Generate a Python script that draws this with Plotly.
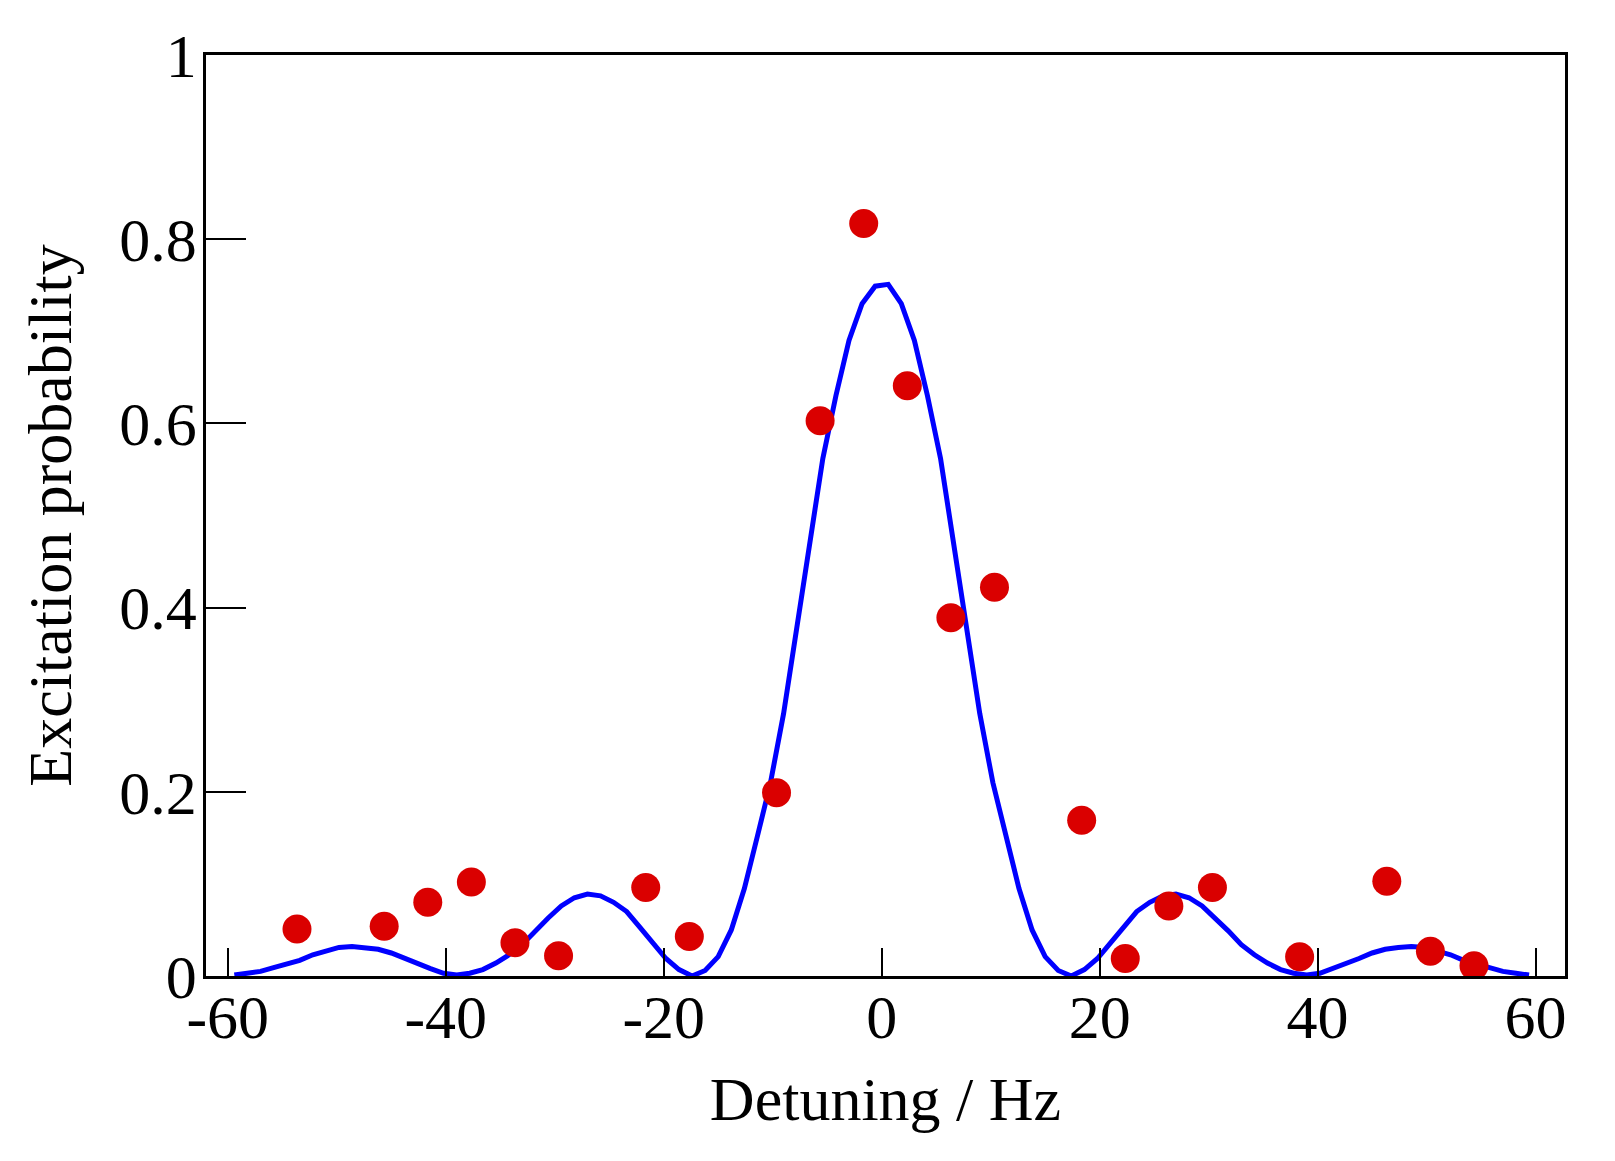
import plotly.graph_objects as go

# Measured data points (detuning in Hz, excitation probability)
data_x = [-53.65, -45.65, -41.65, -37.65, -33.65, -29.65, -21.65, -17.65,
          -9.65, -5.65, -1.65, 2.35, 6.35, 10.35, 18.35, 22.35, 26.35,
          30.35, 38.35, 46.35, 50.35, 54.35]
data_y = [0.051, 0.054, 0.080, 0.102, 0.036, 0.022, 0.096, 0.043,
          0.199, 0.603, 0.817, 0.641, 0.389, 0.422, 0.169, 0.019, 0.076,
          0.096, 0.021, 0.103, 0.027, 0.011]

# Theory curve
curve_x = [-59.4, -58.2, -57.0, -55.8, -54.6, -53.4, -52.2, -51.0, -49.8, -48.6,
           -47.4, -46.2, -45.0, -43.8, -42.6, -41.4, -40.2, -39.0, -37.8, -36.6,
           -35.4, -34.2, -33.0, -31.8, -30.6, -29.4, -28.2, -27.0, -25.8, -24.6,
           -23.4, -22.2, -21.0, -19.8, -18.6, -17.4, -16.2, -15.0, -13.8, -12.6,
           -11.4, -10.2, -9.0, -7.8, -6.6, -5.4, -4.2, -3.0, -1.8, -0.6,
           0.6, 1.8, 3.0, 4.2, 5.4, 6.6, 7.8, 9.0, 10.2, 11.4,
           12.6, 13.8, 15.0, 16.2, 17.4, 18.6, 19.8, 21.0, 22.2, 23.4,
           24.6, 25.8, 27.0, 28.2, 29.4, 30.6, 31.8, 33.0, 34.2, 35.4,
           36.6, 37.8, 39.0, 40.2, 41.4, 42.6, 43.8, 45.0, 46.2, 47.4,
           48.6, 49.8, 51.0, 52.2, 53.4, 54.6, 55.8, 57.0, 58.2, 59.4]
curve_y = [0.001, 0.003, 0.005, 0.009, 0.013, 0.017, 0.023, 0.027, 0.031, 0.032,
           0.031, 0.029, 0.025, 0.019, 0.014, 0.008, 0.003, 0.001, 0.003, 0.007,
           0.014, 0.023, 0.034, 0.049, 0.063, 0.076, 0.085, 0.089, 0.087, 0.080,
           0.070, 0.053, 0.036, 0.019, 0.007, 0.000, 0.006, 0.021, 0.050, 0.095,
           0.152, 0.210, 0.285, 0.375, 0.472, 0.562, 0.630, 0.690, 0.730, 0.749,
           0.751, 0.730, 0.690, 0.630, 0.562, 0.472, 0.375, 0.285, 0.210, 0.152,
           0.095, 0.050, 0.021, 0.006, 0.000, 0.007, 0.019, 0.036, 0.053, 0.070,
           0.080, 0.087, 0.089, 0.085, 0.076, 0.063, 0.049, 0.034, 0.023, 0.014,
           0.007, 0.003, 0.001, 0.003, 0.008, 0.014, 0.019, 0.025, 0.029, 0.031,
           0.032, 0.031, 0.027, 0.023, 0.017, 0.013, 0.009, 0.005, 0.003, 0.001]

x_tickvals = [-60, -40, -20, 0, 20, 40, 60]
x_ticktext = ["-60", "-40", "-20", "0", "20", "40", "60"]
y_tickvals = [0, 0.2, 0.4, 0.6, 0.8, 1]
y_ticktext = ["0", "0.2", "0.4", "0.6", "0.8", "1"]

FONT = "Liberation Serif, Times New Roman, serif"

fig = go.Figure()
fig.add_trace(go.Scatter(x=curve_x, y=curve_y, mode="lines",
                         line=dict(color="#0000FF", width=5),
                         showlegend=False, hoverinfo="skip"))
fig.add_trace(go.Scatter(x=data_x, y=data_y, mode="markers",
                         marker=dict(color="#DA0000", size=29, line=dict(width=0)),
                         showlegend=False))

fig.update_layout(
    width=1615, height=1161,
    margin=dict(l=206, r=50, t=55, b=185, pad=0),
    paper_bgcolor="white", plot_bgcolor="white",
    font=dict(family=FONT, size=62, color="black"),
    xaxis=dict(
        range=[-62.0, 62.7], showgrid=False, zeroline=False,
        showline=True, linecolor="black", linewidth=2.5, mirror=True,
        ticks="inside", ticklen=28, tickwidth=2, tickcolor="black",
        tickvals=x_tickvals, ticktext=x_ticktext,
        tickfont=dict(family=FONT, size=62),
        ticklabelstandoff=-15,
        title=dict(text="Detuning / Hz", font=dict(family=FONT, size=62), standoff=27),
    ),
    yaxis=dict(
        range=[0, 1], showgrid=False, zeroline=False,
        showline=True, linecolor="black", linewidth=2.5, mirror=True,
        ticks="inside", ticklen=40, tickwidth=2, tickcolor="black",
        tickvals=y_tickvals, ticktext=y_ticktext,
        tickfont=dict(family=FONT, size=62),
        ticklabelstandoff=-6,
        title=dict(text="Excitation probability", font=dict(family=FONT, size=62), standoff=28),
    ),
)

fig.write_html("out.html", config={"displayModeBar": False},
               post_script="document.body.style.margin='0';document.body.style.overflow='hidden';")
